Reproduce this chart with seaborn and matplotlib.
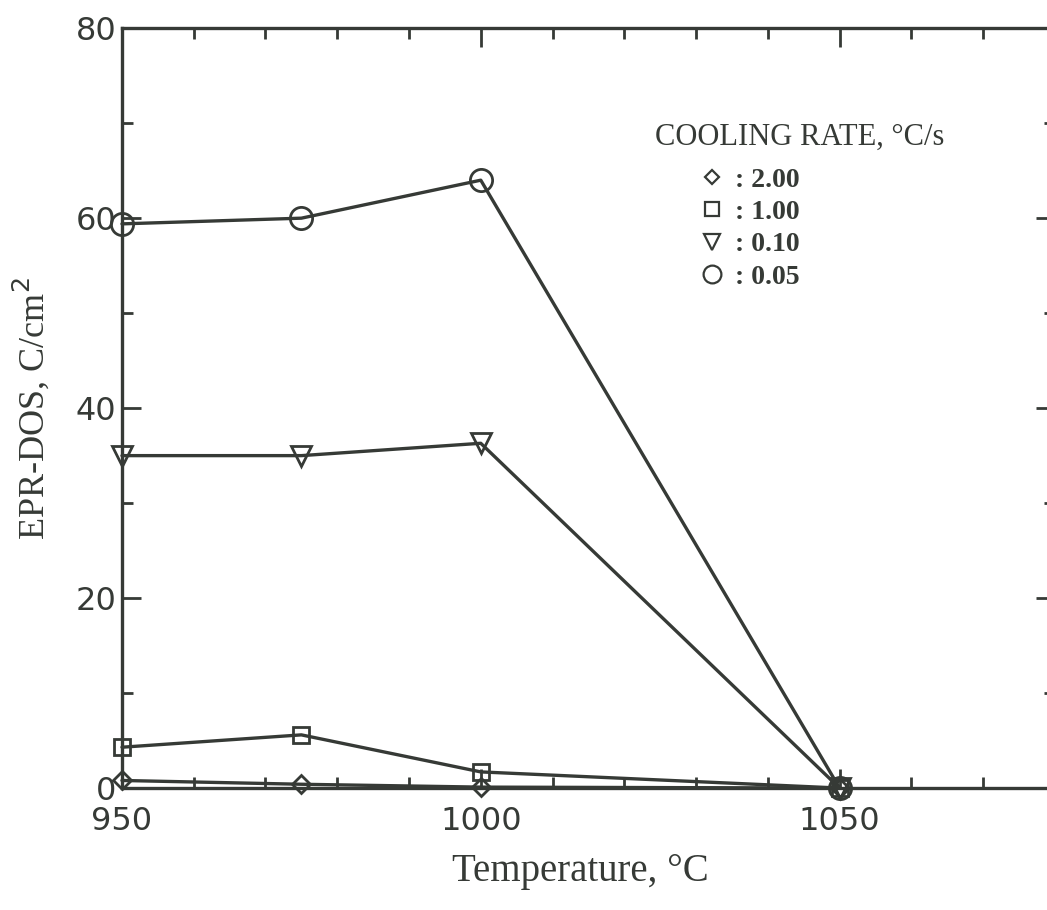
import pandas as pd
import matplotlib.pyplot as plt
import seaborn as sns
import numpy as np
from matplotlib.lines import Line2D
from matplotlib.ticker import MultipleLocator

temps = [950, 975, 1000, 1050]
rates = ['2.00', '1.00', '0.10', '0.05']
dos_200 = [0.8, 0.4, 0.1, 0.0]
dos_100 = [4.3, 5.6, 1.7, 0.0]
dos_010 = [35.0, 35.0, 36.3, 0.0]
dos_005 = [59.4, 60.0, 64.0, 0.0]

INK = '#363a36'
markers = {'2.00': 'D', '1.00': 's', '0.10': 'v', '0.05': 'o'}
msizes = {'2.00': 9, '1.00': 12, '0.10': 14, '0.05': 16}

df = pd.DataFrame({
    'Temperature': temps * 4,
    'DOS': dos_200 + dos_100 + dos_010 + dos_005,
    'Rate': np.repeat(rates, len(temps)),
})

sns.set_style('ticks')
plt.rcParams['font.family'] = ['DejaVu Sans']

fig = plt.figure(figsize=(10.47, 9.10), dpi=100)
ax = fig.add_axes([0.1165, 0.134, 0.891, 0.835])

# one line per cooling rate, open markers
for r in rates:
    sub = df[df['Rate'] == r]
    sns.lineplot(data=sub, x='Temperature', y='DOS', ax=ax, color=INK,
                 marker=markers[r], markersize=msizes[r], markerfacecolor='none',
                 markeredgecolor=INK, markeredgewidth=2.0, linewidth=2.4,
                 clip_on=False, zorder=3)

ax.set_xlim(950, 1080)
ax.set_ylim(0, 80)
ax.xaxis.set_major_locator(MultipleLocator(50))
ax.xaxis.set_minor_locator(MultipleLocator(10))
ax.yaxis.set_major_locator(MultipleLocator(20))
ax.yaxis.set_minor_locator(MultipleLocator(10))
ax.tick_params(which='both', direction='in', top=True, right=True,
               color=INK, width=2.0, labelcolor=INK, labelsize=23)
ax.tick_params(axis='x', pad=13)
ax.tick_params(axis='y', pad=4)
ax.tick_params(which='major', length=14)
ax.tick_params(which='minor', length=8)
for s in ax.spines.values():
    s.set_color(INK)
    s.set_linewidth(2.4)

ax.set_xlabel('Temperature, °C', family='Liberation Serif', fontsize=28,
              color=INK, labelpad=12)
ax.xaxis.set_label_coords(0.491, -0.085)
ax.set_ylabel('EPR-DOS, C/cm$^2$', family='Liberation Serif', fontsize=26,
              color=INK, labelpad=17)

ax.text(0.571, 0.857, 'COOLING RATE, °C/s', transform=ax.transAxes,
        family='Liberation Serif', fontsize=22, color=INK, va='center')
handles = [Line2D([], [], linestyle='none', marker=markers[r],
                  markersize=msizes[r] * 0.8, markerfacecolor='none',
                  markeredgecolor=INK, markeredgewidth=1.6) for r in rates]
ax.legend(handles, [': ' + r for r in rates], loc='upper left',
          bbox_to_anchor=(0.618, 0.817), borderaxespad=0, borderpad=0,
          frameon=False, handlelength=1.0, handletextpad=0.3,
          labelspacing=0.25,
          prop={'family': 'Liberation Serif', 'size': 20, 'weight': 'bold'},
          labelcolor=INK)

fig.savefig('out.png', dpi=100)
